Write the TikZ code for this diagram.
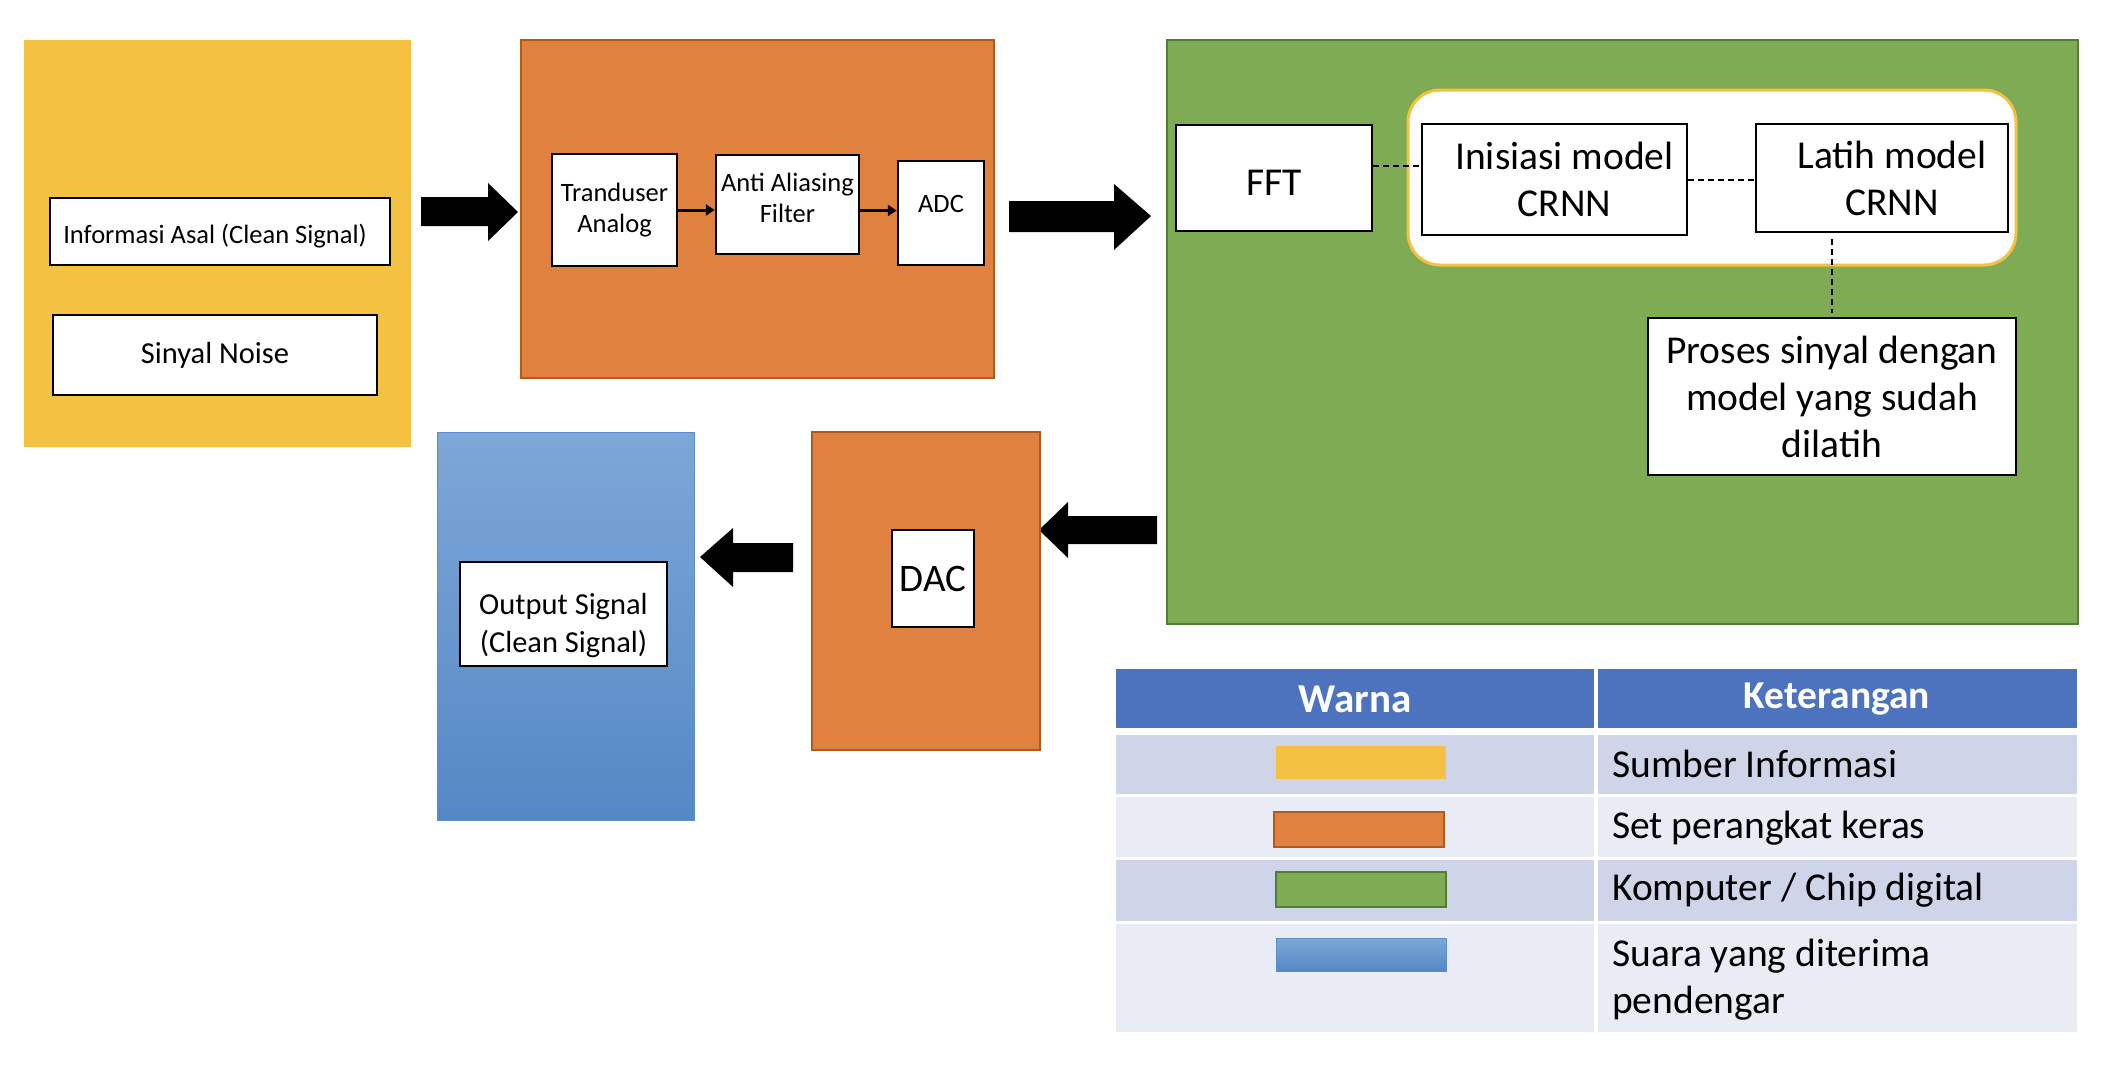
\documentclass[tikz,border=0pt]{standalone}
\usepackage{fontspec}
\setmainfont{Carlito}
\usetikzlibrary{arrows.meta,positioning}

\definecolor{sumber}{HTML}{F5C142}
\definecolor{keras}{HTML}{E0813F}
\definecolor{kerasline}{HTML}{AE5A21}
\definecolor{komputer}{HTML}{7FAB55}
\definecolor{komputerline}{HTML}{507E32}
\definecolor{suaratop}{HTML}{7EA7D8}
\definecolor{suarabot}{HTML}{5488C5}
\definecolor{suaraline}{HTML}{5B8FCB}
\definecolor{tabhead}{HTML}{4E73BE}
\definecolor{rowdark}{HTML}{CFD5E9}
\definecolor{rowlight}{HTML}{E9EBF5}

\begin{document}
\begin{tikzpicture}[x=1pt, y=-1pt,
  box/.style={draw=black, line width=2.5pt, fill=white, align=center, inner sep=0pt},
  small/.style={font=\fontsize{26.5}{31}\selectfont},
  mid/.style={font=\fontsize{30.5}{38}\selectfont},
  big/.style={font=\fontsize{39.5}{47}\selectfont},
  txt/.style={align=center, inner sep=0pt},
  dashline/.style={draw=black, line width=2pt, dash pattern=on 6pt off 4pt},
  smallarrow/.style={draw=black, line width=3pt, -{Triangle[length=9pt, width=11pt]}},
  cell/.style={inner sep=0pt}]

\useasboundingbox (0,0) rectangle (2104,1080);

% Sumber informasi (yellow)
\fill[sumber] (24,40) rectangle (411,447);
\node[box, minimum width=340pt, minimum height=67pt] (info) at (220,231.5) {};
\node[txt, small] (infotxt) at ([xshift=-5pt, yshift=-5pt]info.center) {Informasi Asal (Clean Signal)};
\node[box, font=\fontsize{30.5}{36}\selectfont, minimum width=324pt, minimum height=80pt] (noise) at (215,355) {Sinyal Noise};

% Arrow to hardware
\fill (421,197) -- (488,197) -- (488,183) -- (518,212) -- (488,241) -- (488,226) -- (421,226) -- cycle;

% Set perangkat keras (input side)
\draw[fill=keras, draw=kerasline, line width=2pt] (521,40) rectangle (994,378);
\node[box, small, minimum width=125pt, minimum height=112pt] (trand) at (614.5,210) {Tranduser\\Analog};
\node[box, minimum width=143pt, minimum height=99pt] (anti) at (787.5,204.5) {};
\node[txt, small] (antitxt) at ([yshift=7pt]anti.center) {Anti Aliasing\\Filter};
\node[box, minimum width=86pt, minimum height=104pt] (adc) at (941,213) {};
\node[txt, small] (adctxt) at ([yshift=9pt]adc.center) {ADC};
\draw[smallarrow] (trand.east) -- (trand.east -| anti.west);
\draw[smallarrow] ([yshift=-6pt]anti.east) -- ([yshift=-6pt]anti.east -| adc.west);

% Arrow to computer
\fill (1009,201) -- (1114,201) -- (1114,184) -- (1151,216) -- (1114,250) -- (1114,232) -- (1009,232) -- cycle;

% Komputer / chip digital (green)
\draw[fill=komputer, draw=komputerline, line width=2pt] (1167,40) rectangle (2078,624);
\draw[fill=white, draw=sumber, line width=3pt, rounded corners=32pt] (1408,90) rectangle (2016,265);
\node[box, minimum width=196pt, minimum height=106pt] (fft) at (1274,178) {};
\node[txt, big] (ffttxt) at ([yshift=-5pt]fft.center) {FFT};
\node[box, big, minimum width=265pt, minimum height=111pt] (inis) at (1554.5,179.5) {\hspace*{20pt}Inisiasi model\\\hspace*{20pt}CRNN};
\node[box, big, minimum width=252pt, minimum height=108pt] (latih) at (1882,178) {\hspace*{20pt}Latih model\\\hspace*{20pt}CRNN};
\node[box, big, minimum width=368pt, minimum height=157pt] (proses) at (1832,396.5) {Proses sinyal dengan\\model yang sudah\\dilatih};
\draw[dashline] ([yshift=12pt]fft.east) -- ([yshift=12pt]fft.east -| inis.west);
\draw[dashline] (inis.east) -- (inis.east -| latih.west);
\draw[dashline] ([yshift=-6pt]latih.south -| proses.north) -- ([yshift=4pt]proses.north);

% Arrow back to DAC
\fill (1157,516) -- (1068,516) -- (1068,502) -- (1039,530) -- (1068,558) -- (1068,544) -- (1157,544) -- cycle;

% Set perangkat keras (output side)
\draw[fill=keras, draw=kerasline, line width=2pt] (812,432) rectangle (1040,750);
\node[box, font=\fontsize{39}{44}\selectfont, minimum width=82pt, minimum height=97pt] (dac) at (933,578.5) {DAC};

% Arrow to listener
\fill (793,543) -- (733,543) -- (733,528) -- (700,557) -- (733,587) -- (733,572) -- (793,572) -- cycle;

% Suara yang diterima pendengar (blue)
\shade[top color=suaratop, bottom color=suarabot] (437,432) rectangle (694,820);
\draw[suaraline, line width=1pt] (437,432) rectangle (694,820);
\node[box, minimum width=207pt, minimum height=104pt] (out) at (563.5,614) {};
\node[txt, mid] (outtxt) at ([yshift=-12pt]out.center) {Output Signal\\(Clean Signal)};

% Legend table
\fill[tabhead] (1116,669) rectangle (1594,728);
\fill[tabhead] (1598,669) rectangle (2077,728);
\fill[rowdark] (1116,735) rectangle (1594,794);
\fill[rowdark] (1598,735) rectangle (2077,794);
\fill[rowlight] (1116,797) rectangle (1594,857);
\fill[rowlight] (1598,797) rectangle (2077,857);
\fill[rowdark] (1116,860) rectangle (1594,921);
\fill[rowdark] (1598,860) rectangle (2077,921);
\fill[rowlight] (1116,924) rectangle (1594,1032);
\fill[rowlight] (1598,924) rectangle (2077,1032);

\node[cell, text=white, font=\fontsize{41}{47}\selectfont\bfseries] (warna) at (1355,699) {Warna};
\node[cell, text=white, font=\fontsize{39.5}{47}\selectfont\bfseries] (ket) at (1837,699) {Keterangan};

% Colour swatches
\fill[sumber] (1276,746) rectangle (1446,779);
\draw[fill=keras, draw=kerasline, line width=2pt] (1274,812) rectangle (1444,847);
\draw[fill=komputer, draw=komputerline, line width=2pt] (1276,872) rectangle (1446,907);
\shade[top color=suaratop, bottom color=suarabot] (1276,938) rectangle (1446,971);
\draw[suaraline, line width=1pt] (1276,938) rectangle (1446,971);

% Descriptions
\node[cell, big, anchor=west] (ket1) at (1612,764) {Sumber Informasi};
\node[cell, big, anchor=west] (ket2) at (1612,828) {Set perangkat keras};
\node[cell, big, anchor=west] (ket3) at (1612,890) {Komputer / Chip digital};
\node[cell, big, anchor=west, align=left] (ket4) at (1612,980) {Suara yang diterima\\pendengar};

\end{tikzpicture}
\end{document}
